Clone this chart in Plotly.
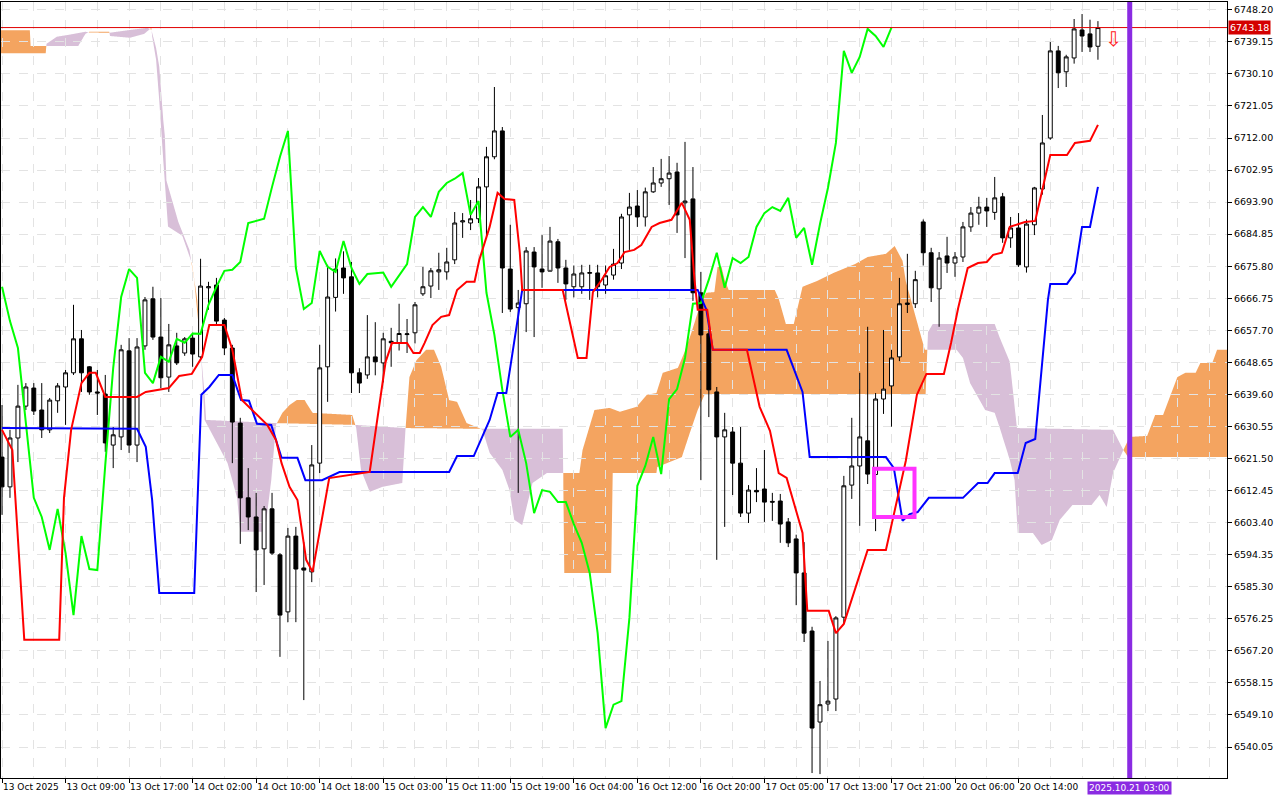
import numpy as np
import plotly.graph_objects as go

# ---------------- data ----------------
opens = [6621.9,6613.5,6627.3,6636.3,6641.4,6635.2,6629.6,6637.8,6641.7,6645.7,
6655.3,6647.4,6640.3,6639.7,6625.3,6627.6,6651.9,6625.3,6653.3,6666.6,
6655.8,6644.5,6653.3,6651.3,6655.5,6650.2,6669.7,6670.5,6660.6,6652.7,
6631.5,6610.4,6605.0,6596.0,6607.3,6594.3,6578.2,6599.6,6590.6,6589.5,
6620.2,6647.4,6667.0,6675.3,6672.8,6645.7,6645.1,6650.2,6648.5,6654.6,
6654.0,6656.5,6657.0,6668.0,6670.2,6674.2,6674.2,6677.6,6688.3,6688.0,
6689.2,6698.2,6706.7,6714.0,6675.0,6664.1,6665.2,6679.8,6675.0,6674.4,
6682.7,6675.3,6670.0,6670.0,6673.8,6673.9,6670.5,6673.3,6676.7,6690.3,
6692.8,6689.7,6696.8,6699.3,6700.5,6702.4,6693.7,6694.8,6668.3,6656.7,
6640.3,6627.6,6629.0,6620.2,6606.1,6612.5,6612.9,6609.4,6609.5,6603.6,
6598.8,6589.2,6572.8,6547.1,6552.2,6553.6,6576.7,6614.0,6619.4,6626.5,
6617.0,6638.3,6642.0,6650.2,6665.0,6665.2,6688.3,6679.6,6669.4,6678.7,
6676.7,6678.4,6686.9,6690.8,6692.5,6691.0,6695.4,6683.8,6686.6,6675.6,
6687.5,6697.6,6712.0,6736.6,6730.7,6734.6,6742.5,6741.4,6737.9]
closes = [6613.5,6627.3,6636.3,6641.7,6634.9,6629.6,6638.0,6642.0,6645.7,6655.3,
6645.7,6640.3,6640.0,6625.9,6628.2,6652.2,6625.3,6653.0,6666.3,6655.8,
6644.3,6653.6,6648.5,6655.3,6651.0,6670.2,6670.0,6660.3,6652.7,6631.8,
6610.4,6605.0,6595.7,6607.3,6594.8,6577.3,6599.6,6590.3,6590.0,6619.7,
6647.1,6667.1,6675.0,6672.5,6645.7,6642.8,6650.2,6648.8,6655.3,6654.2,
6656.8,6656.7,6664.9,6670.0,6674.5,6674.8,6677.0,6688.0,6688.6,6689.2,
6698.2,6706.7,6714.0,6675.3,6663.7,6665.4,6680.1,6675.6,6674.2,6682.9,
6675.3,6670.8,6673.6,6673.9,6674.0,6670.0,6673.1,6676.4,6689.7,6692.5,
6689.7,6696.8,6699.3,6700.5,6702.1,6690.3,6694.2,6668.3,6656.4,6640.9,
6627.6,6629.6,6620.2,6606.1,6612.6,6612.1,6609.2,6609.2,6603.0,6597.7,
6589.2,6572.2,6545.4,6552.0,6553.0,6576.5,6613.8,6619.4,6627.6,6617.1,
6638.3,6641.1,6649.9,6665.2,6665.4,6672.0,6679.6,6669.7,6678.1,6676.7,
6678.4,6686.9,6690.8,6692.5,6691.4,6695.1,6683.8,6686.6,6676.2,6687.7,
6697.9,6710.6,6736.6,6730.4,6734.9,6742.8,6740.8,6737.7,6743.18]
highs = [6636.6,6629.6,6642.3,6642.8,6642.8,6642.8,6638.6,6642.8,6646.5,6664.9,
6657.8,6647.6,6646.5,6645.1,6630.4,6653.6,6655.5,6655.5,6667.1,6670.0,
6666.8,6659.5,6657.0,6655.8,6657.0,6677.9,6671.4,6672.5,6661.2,6653.6,
6633.0,6618.8,6611.8,6608.1,6611.8,6594.8,6601.9,6602.2,6597.9,6625.3,
6653.6,6676.2,6678.0,6680.0,6677.0,6647.0,6662.0,6660.0,6657.0,6658.4,
6665.2,6660.9,6665.7,6675.6,6675.3,6679.6,6681.0,6691.1,6690.8,6694.5,
6700.7,6709.5,6726.4,6715.1,6687.5,6669.1,6681.2,6681.2,6684.6,6686.9,
6683.5,6677.6,6676.0,6676.2,6676.2,6676.2,6676.0,6680.7,6690.6,6696.5,
6697.3,6698.0,6703.8,6706.1,6706.9,6705.0,6710.9,6703.8,6674.2,6658.0,
6641.7,6634.4,6630.4,6630.4,6614.0,6618.8,6623.9,6611.8,6611.5,6604.7,
6600.0,6597.9,6574.0,6558.7,6570.0,6577.0,6616.6,6633.0,6645.7,6658.7,
6640.0,6657.8,6652.2,6672.5,6679.3,6674.5,6689.0,6681.0,6679.8,6684.1,
6679.8,6688.3,6692.5,6695.4,6695.1,6701.0,6696.5,6689.7,6690.8,6689.0,
6698.2,6718.5,6739.1,6738.0,6735.5,6745.6,6747.0,6745.4,6745.0]
lows = [6605.6,6610.4,6620.5,6635.2,6633.8,6627.3,6628.7,6634.4,6631.0,6645.1,
6640.3,6639.5,6633.8,6623.4,6618.8,6623.9,6623.1,6620.5,6652.2,6655.0,
6641.4,6640.3,6647.9,6650.5,6647.4,6649.3,6663.5,6659.2,6650.7,6620.2,
6597.4,6601.3,6583.8,6585.8,6594.3,6565.5,6575.3,6575.3,6553.3,6586.6,
6617.4,6637.5,6663.0,6668.0,6640.0,6640.0,6644.0,6645.0,6643.0,6647.4,
6652.0,6651.3,6654.0,6667.4,6666.8,6669.1,6672.0,6676.4,6683.8,6686.0,
6688.0,6684.1,6706.0,6662.6,6662.9,6611.8,6657.2,6655.8,6669.7,6674.8,
6671.1,6666.3,6667.0,6668.0,6666.3,6667.0,6668.0,6672.0,6675.0,6680.4,
6686.9,6687.0,6696.5,6698.2,6693.1,6685.2,6678.1,6666.0,6615.4,6633.2,
6592.9,6602.2,6611.2,6605.0,6603.3,6609.2,6603.6,6603.9,6597.7,6596.5,
6580.1,6569.7,6532.7,6532.4,6550.2,6550.2,6575.0,6610.1,6602.5,6614.3,
6601.0,6634.1,6630.5,6649.0,6662.6,6664.0,6676.0,6665.7,6658.7,6673.9,
6672.8,6677.0,6685.5,6687.5,6686.9,6688.9,6682.4,6681.0,6675.6,6674.0,
6684.6,6696.0,6711.5,6726.1,6726.4,6733.0,6736.3,6736.3,6734.1]

tenkan_bars = [0,1.3,2.8,7.2,7.8,8.7,10.0,11.0,11.8,13.0,17.0,18.1,21.0,22.3,23.9,25.2,26.1,28.0,29.0,30.2,
33.4,34.5,35.2,36.2,37.2,38.3,39.1,41.2,46.3,47.5,48.3,49.1,51.0,51.8,52.6,53.2,54.2,55.3,56.3,57.3,
58.5,59.5,60.1,61.4,62.4,63.3,64.5,65.2,65.5,70.6,72.5,73.6,74.4,75.5,76.5,77.5,78.4,79.6,80.5,81.8,
82.8,84.3,85.6,86.6,87.2,87.6,88.8,89.5,93.8,95.4,96.7,97.8,98.8,100.8,101.4,104.1,105.0,106.0,109.0,111.3,
113.8,115.2,116.4,118.6,119.5,120.4,121.6,122.9,124.0,124.8,125.9,126.9,128.8,130.1,130.9,132.0,134.1,135.1,137.0,138.0]
tenkan_vals = [6629.6,6623.9,6570.3,6570.3,6610.4,6629.6,6642.8,6645.7,6645.7,6638.9,6638.9,6640.3,6641.4,6644.8,6645.4,6650.2,6659.2,6659.2,6652.2,6638.0,
6631.0,6626.7,6620.2,6613.5,6609.8,6592.9,6589.5,6616.0,6617.7,6636.1,6648.8,6654.1,6654.1,6651.3,6651.3,6654.1,6659.2,6661.5,6662.0,6669.1,
6671.4,6671.4,6677.6,6686.9,6696.5,6694.8,6694.5,6679.6,6669.1,6669.1,6649.9,6649.9,6668.5,6671.9,6675.6,6676.7,6679.8,6680.4,6681.8,6686.9,
6688.0,6688.9,6693.7,6688.9,6671.9,6663.5,6663.5,6652.2,6652.2,6636.1,6629.3,6617.4,6616.0,6600.5,6578.5,6578.5,6572.2,6574.8,6595.7,6595.7,
6620.8,6639.5,6645.4,6645.4,6654.1,6664.0,6675.3,6676.7,6677.0,6679.0,6679.6,6686.9,6688.3,6688.6,6696.8,6707.2,6707.2,6710.6,6711.2,6715.7]

kijun_bars = [0,17.0,18.1,18.9,19.8,24.2,25.1,26.1,27.3,29.0,30.1,31.1,32.1,33.9,35.2,37.2,38.2,40.3,42.5,56.3,
57.3,59.4,61.4,62.4,63.5,65.5,87.6,88.2,88.7,89.5,98.8,100.8,101.7,111.3,112.3,113.4,114.3,115.3,116.7,121.0,
122.9,124.1,125.0,127.9,128.9,130.1,131.7,132.0,134.1,135.1,136.0,137.0,138.0]
kijun_vals = [6630.1,6629.9,6624.8,6609.8,6583.5,6583.5,6639.5,6641.7,6645.1,6645.1,6638.0,6637.8,6631.3,6631.0,6621.7,6621.7,6615.4,6615.4,6617.7,6617.7,
6622.2,6622.2,6632.4,6640.0,6640.0,6669.1,6669.1,6666.3,6663.5,6652.2,6652.2,6640.3,6621.9,6621.9,6618.8,6603.9,6605.8,6606.4,6610.4,6610.4,
6614.6,6614.6,6617.4,6617.4,6625.9,6627.0,6666.3,6670.8,6670.8,6673.9,6686.9,6686.9,6698.2]

spanA_bars = [-0.4,3.5,3.6,5.5,9.6,10.5,11.0,13.5,13.6,16.1,17.9,18.8,18.9,19.4,19.8,20.3,20.9,22.7,23.9,24.6,25.1,25.5,
26.1,28.4,29.6,30.0,33.1,33.9,34.5,35.3,36.2,37.1,38.1,39.1,44.1,44.6,45.2,46.3,47.9,50.4,50.8,51.3,
52.2,53.4,54.4,55.3,56.3,57.3,58.5,60.1,60.5,61.4,63.0,63.9,64.5,65.5,66.8,68.6,72.7,73.1,74.6,76.5,
77.8,79.9,81.2,82.4,83.2,85.1,85.9,86.8,88.1,88.7,89.7,90.1,90.6,91.0,91.5,97.3,97.8,98.7,99.7,100.8,
102.6,104.7,107.4,109.0,111.3,112.4,113.4,113.8,114.7,115.6,116.2,120.2,121.0,121.9,123.8,125.0,125.6,126.9,127.5,127.9,
129.8,130.9,132.2,133.2,134.8,137.2,138.2,139.1,139.9,141.2,142.0,144.2,145.2,146.2,148.0,149.0,150.3,150.9,152.4,153.0,154.3]
spanA_vals = [6742.4,6742.4,6738.0,6738.0,6738.0,6741.4,6742.0,6742.0,6740.8,6740.3,6741.4,6743.1,6740.8,6734.1,6722.5,6705.8,6687.0,6684.4,6676.7,6666.0,6649.3,6632.4,
6629.9,6620.2,6610.4,6600.8,6600.8,6615.4,6631.0,6634.4,6636.6,6638.0,6638.0,6634.4,6633.8,6630.1,6618.3,6612.1,6613.5,6614.6,6629.6,6644.5,
6649.3,6652.2,6652.2,6647.4,6638.0,6637.5,6631.5,6630.1,6629.6,6623.1,6618.3,6612.6,6604.2,6602.7,6614.6,6617.4,6617.4,6623.9,6635.2,6635.8,
6634.7,6636.1,6639.5,6640.0,6645.7,6647.1,6651.3,6657.0,6666.3,6668.3,6668.5,6675.6,6675.6,6671.9,6669.1,6669.1,6666.6,6659.5,6659.5,6670.0,
6671.6,6673.9,6676.4,6678.4,6679.3,6681.5,6677.3,6671.6,6664.3,6657.0,6652.2,6652.2,6649.9,6642.8,6635.2,6634.4,6630.4,6621.1,6615.4,6600.5,
6600.5,6597.1,6598.5,6604.2,6608.4,6608.4,6611.2,6607.8,6617.4,6623.9,6627.6,6627.9,6633.8,6633.8,6644.5,6645.7,6645.7,6648.5,6648.5,6652.2,6652.2]

spanB_bars = [-0.4,5.5,5.6,6.9,8.3,10.5,11.0,13.5,16.1,18.3,18.8,19.4,19.8,20.3,20.5,20.7,22.2,23.6,24.2,24.8,25.5,
25.7,34.5,44.4,50.8,60.1,70.6,70.8,76.7,76.9,82.4,82.5,85.6,86.6,87.6,88.5,116.3,116.6,117.2,125.0,125.6,
126.9,127.8,139.9,141.2,141.8,154.3]
spanB_vals = [6735.9,6735.9,6738.6,6740.6,6741.1,6742.0,6741.8,6741.7,6742.5,6743.1,6742.6,6737.4,6732.1,6717.1,6712.6,6700.0,6688.3,6680.4,6671.9,6657.8,6639.7,
6632.4,6631.5,6631.0,6630.1,6629.9,6629.9,6589.2,6589.2,6617.4,6617.4,6619.1,6621.9,6628.7,6635.2,6639.7,6639.7,6657.2,6659.5,6659.5,6655.8,
6648.8,6630.1,6629.6,6623.9,6621.9,6621.9]

price_ticks = [6748.20,6739.15,6730.10,6721.05,6712.00,6702.95,6693.90,6684.85,6675.80,6666.75,6657.70,6648.65,
               6639.60,6630.55,6621.50,6612.45,6603.40,6594.35,6585.30,6576.25,6567.20,6558.15,6549.10,6540.05]
time_tick_bars = list(range(0, 129, 8))
time_labels = ["13 Oct 2025","13 Oct 09:00","13 Oct 17:00","14 Oct 02:00","14 Oct 10:00","14 Oct 18:00",
               "15 Oct 03:00","15 Oct 11:00","15 Oct 19:00","16 Oct 04:00","16 Oct 12:00","16 Oct 20:00",
               "17 Oct 05:00","17 Oct 13:00","17 Oct 21:00","20 Oct 06:00","20 Oct 14:00"]
current_price = 6743.18
current_bar = 142
current_label = "2025.10.21 03:00"
signal_bar = 139.9
signal_price = 6740.0
box_bars = [109.8, 114.9]
box_prices = [6605.0, 6618.6]

# ---------------- figure ----------------
fig = go.Figure()
bars = list(range(len(closes)))

g = np.arange(-0.4, 154.31, 0.02)
a = np.interp(g, spanA_bars, spanA_vals)
b = np.interp(g, spanB_bars, spanB_vals)
up = a >= b
shapes = []
start = 0
for k in range(1, len(g) + 1):
    if k == len(g) or up[k] != up[start]:
        end = min(k + 1, len(g))
        xs = list(g[start:end]) + list(g[start:end][::-1])
        ys = list(a[start:end]) + list(b[start:end][::-1])
        path = "M " + " L ".join(f"{x:.3f},{y:.3f}" for x, y in zip(xs, ys)) + " Z"
        shapes.append(dict(type="path", path=path, xref="x", yref="y", layer="below",
                           fillcolor="#F4A460" if up[start] else "#D8BFD8", line=dict(width=0)))
        start = k

fig.add_trace(go.Candlestick(x=bars, open=opens, high=highs, low=lows, close=closes,
    increasing=dict(line=dict(color="black", width=1), fillcolor="white"),
    decreasing=dict(line=dict(color="black", width=1), fillcolor="black"),
    whiskerwidth=0, showlegend=False, hoverinfo="skip"))

fig.add_trace(go.Scatter(x=list(range(len(closes) - 26)), y=closes[26:], mode="lines",
                         line=dict(color="#00FF00", width=2), showlegend=False))
fig.add_trace(go.Scatter(x=kijun_bars, y=kijun_vals, mode="lines",
                         line=dict(color="#0000FF", width=2), showlegend=False))
fig.add_trace(go.Scatter(x=tenkan_bars, y=tenkan_vals, mode="lines",
                         line=dict(color="#FF0000", width=2), showlegend=False))

shapes.append(dict(type="line", xref="paper", x0=0, x1=1, yref="y", y0=current_price, y1=current_price,
                   line=dict(color="#E00000", width=1)))
shapes.append(dict(type="line", xref="x", x0=current_bar, x1=current_bar, yref="paper", y0=0, y1=1,
                   line=dict(color="#8A2BE2", width=5)))
shapes.append(dict(type="rect", xref="x", yref="y", x0=box_bars[0], x1=box_bars[1],
                   y0=box_prices[0], y1=box_prices[1], line=dict(color="#FF33FF", width=4)))

ann = [
    dict(xref="paper", x=1, y=current_price, yref="y", text=f"{current_price:.2f}",
         showarrow=False, xanchor="left", xshift=1, bgcolor="#D40000",
         font=dict(color="white", size=9.5, family="DejaVu Sans"), borderpad=1),
    dict(xref="x", x=current_bar, yref="paper", y=0, yanchor="top", yshift=-3, text=current_label,
         showarrow=False, bgcolor="#8A2BE2", font=dict(color="white", size=9, family="DejaVu Sans"), borderpad=1),
    dict(xref="x", x=signal_bar, yref="y", y=signal_price, text="⇩", showarrow=False,
         font=dict(color="#FF2020", size=20, family="DejaVu Sans")),
]

fig.update_layout(
    width=1280, height=800, margin=dict(l=1, r=53, t=2, b=22),
    plot_bgcolor="white", paper_bgcolor="white",
    font=dict(family="DejaVu Sans", size=9.5, color="black"),
    shapes=shapes, annotations=ann, showlegend=False, hovermode=False,
    xaxis=dict(range=[-0.13, 154.25], rangeslider=dict(visible=False), automargin=False,
               tickvals=time_tick_bars, ticktext=time_labels, ticks="outside", ticklen=4, tickangle=0,
               ticklabelposition="outside right", tickcolor="black", tickfont=dict(size=9),
               showgrid=True, gridcolor="#E3E3E3", griddash="dash",
               minor=dict(dtick=4, tick0=0, showgrid=True, gridcolor="#E3E3E3", griddash="dash"),
               showline=True, linecolor="black", mirror=True, zeroline=False),
    yaxis=dict(range=[6531.3, 6750.4], side="right", tickvals=price_ticks, automargin=False,
               ticktext=[f"{p:.2f}" for p in price_ticks], ticks="outside", ticklen=4, tickcolor="black",
               showgrid=True, gridcolor="#E3E3E3", griddash="dash",
               showline=True, linecolor="black", mirror=True, zeroline=False),
)
fig.write_html("out.html", config={"displayModeBar": False},
               post_script="document.body.style.margin='0';document.body.style.padding='0';")
